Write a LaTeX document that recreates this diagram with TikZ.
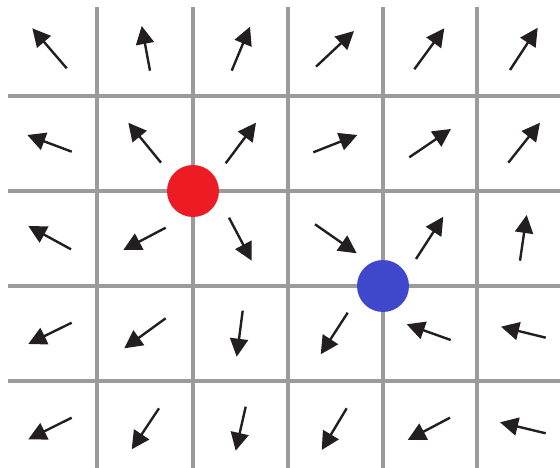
\documentclass[tikz,border=0pt]{standalone}
\usepackage{xcolor}
\usetikzlibrary{arrows.meta}
\definecolor{gridgray}{HTML}{9B9B9B}
\definecolor{vecblack}{HTML}{231F20}
\definecolor{dotred}{HTML}{ED1C24}
\definecolor{dotblue}{HTML}{3F48CC}
\tikzset{gridline/.style={gridgray,line width=4pt},
  vec/.style={vecblack,line width=2.4pt,-{Triangle[length=18pt,width=18pt]}},
  dot/.style={circle,inner sep=0pt,minimum size=52pt}}

\begin{document}
\begin{tikzpicture}[x=1pt,y=-1pt]
\useasboundingbox (0,0) rectangle (560,468);
% grid
\foreach \gx in {97,193,288,383,477} \draw[gridline] (\gx,7)--(\gx,468);
\foreach \gy in {96,191,286,381} \draw[gridline] (8,\gy)--(560,\gy);
% field arrows (tail / head)
\foreach \ax/\ay/\bx/\by in {
  66.7/68.3/32.3/28.3, 150/70.7/141.7/26, 231.7/70.7/250/26.7,
  316/66.7/354/31, 414.3/69.3/444.3/28.3, 510/70/537.7/27.7,
  71.7/151.7/27.3/135, 161/162.7/128.3/122.7, 225.7/163.3/256/122.7,
  313.3/152.3/357.3/135, 409.3/157.3/451/129, 508.3/162.7/540/122.7,
  71/249.3/28.3/226, 165.7/227.7/123.3/250, 229/217.7/251.7/260.7,
  315/224.3/356.7/253.3, 416/259/443.3/216.7, 520/260.7/526.7/215,
  71.7/322.7/28.3/344, 165.7/318.3/124.3/348.3, 242.7/310.7/236.7/356.7,
  347.7/312.7/320.7/354.3, 450.7/340/406.7/324.3, 545.7/337.7/501/326.7,
  71.7/417.7/28.3/439.3, 159/408.3/131.7/449.3, 245.7/406.7/235.7/450.7,
  346.7/408.3/321.7/450, 450/417.7/407.7/440, 545.7/433.3/500/422.3}
  \draw[vec] (\ax,\ay)--(\bx,\by);
% charges
\node[dot,fill=dotred] (red) at (193,191){};
\node[dot,fill=dotblue] (blue) at (383,286){};
\end{tikzpicture}
\end{document}
